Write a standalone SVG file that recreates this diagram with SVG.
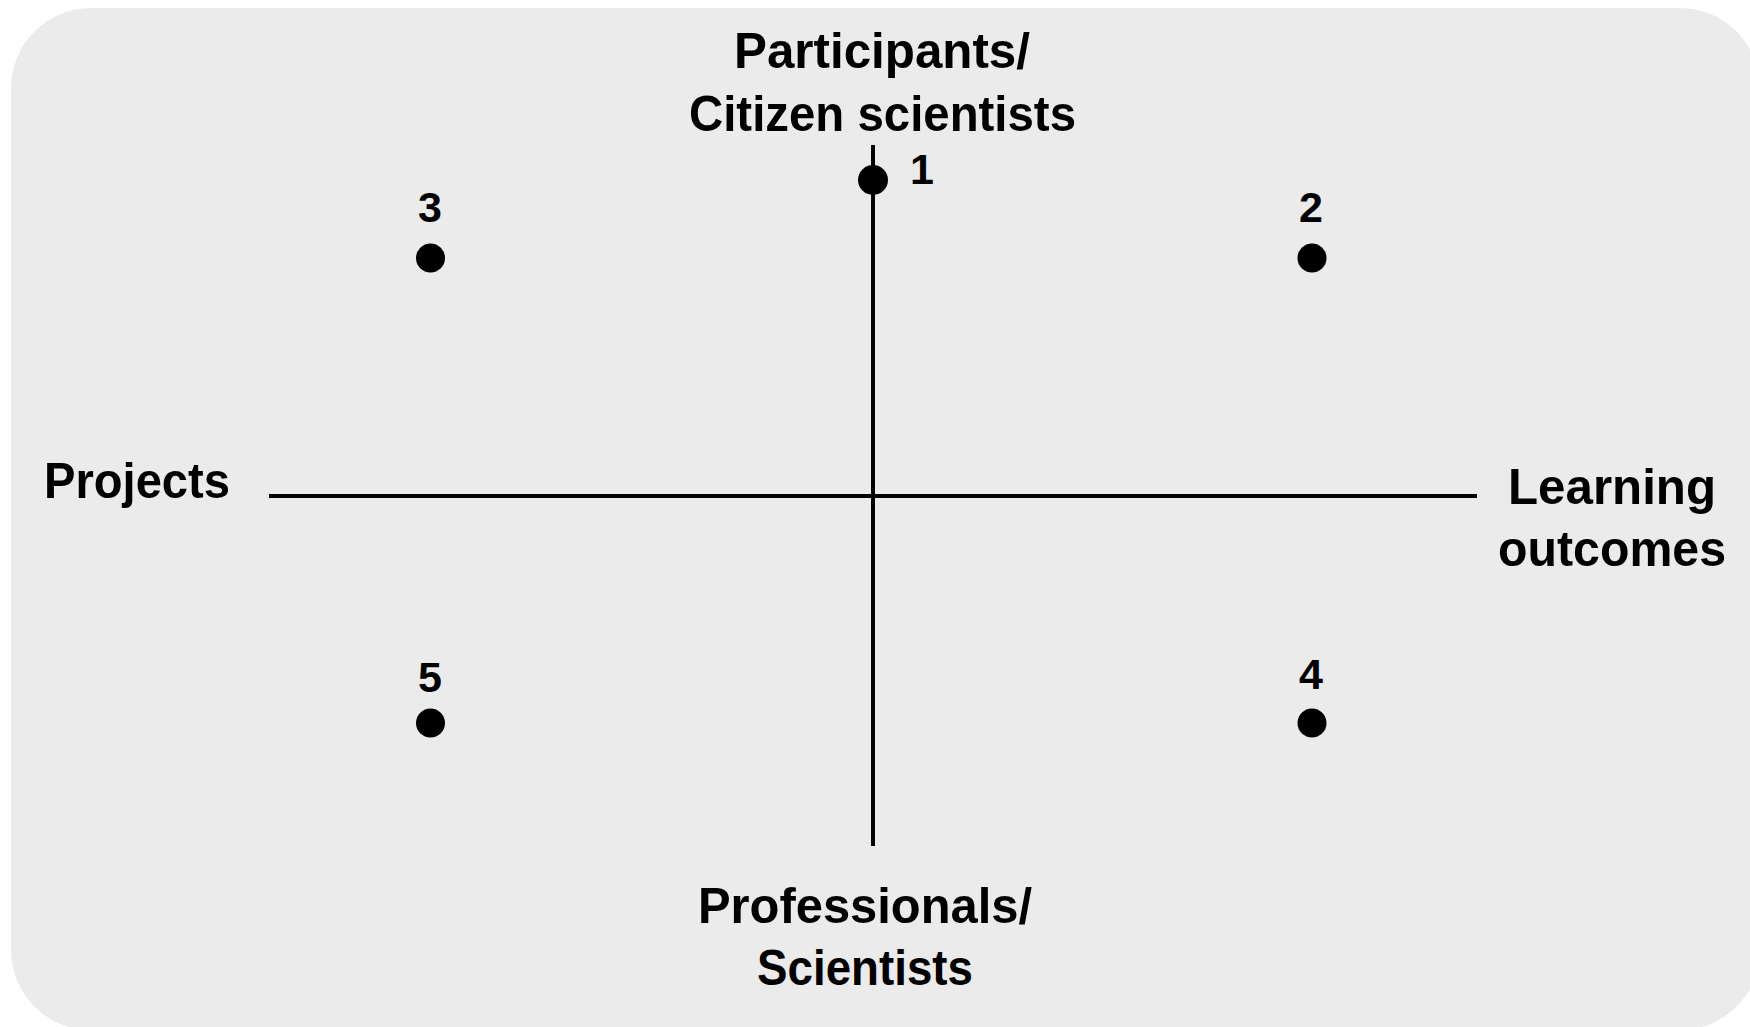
<svg xmlns="http://www.w3.org/2000/svg" width="1750" height="1027" viewBox="0 0 1750 1027">
<style>
.lbl{font-family:"Liberation Sans",Arial,sans-serif;font-weight:bold;font-size:50px;fill:#000;text-anchor:middle}
.num{font-family:"Liberation Sans",Arial,sans-serif;font-weight:bold;font-size:43px;fill:#000;text-anchor:middle}
.axis{stroke:#000;stroke-width:4;fill:none}
.dot{fill:#000}
</style>
<rect id="background" x="11" y="8" width="1749" height="1022" rx="80" ry="80" fill="#ebebeb"/>
<g id="connectors">
<line class="axis" x1="873" y1="145" x2="873" y2="846"/>
<line class="axis" x1="269" y1="496" x2="1477" y2="496"/>
</g>
<g id="label-top">
<text class="lbl" x="882" y="68" textLength="296" lengthAdjust="spacingAndGlyphs">Participants/</text>
<text class="lbl" x="882.5" y="131" textLength="387" lengthAdjust="spacingAndGlyphs">Citizen scientists</text>
</g>
<g id="label-bottom">
<text class="lbl" x="865" y="923" textLength="334" lengthAdjust="spacingAndGlyphs">Professionals/</text>
<text class="lbl" x="865" y="985" textLength="216" lengthAdjust="spacingAndGlyphs">Scientists</text>
</g>
<g id="label-left">
<text class="lbl" x="137" y="498" textLength="186" lengthAdjust="spacingAndGlyphs">Projects</text>
</g>
<g id="label-right">
<text class="lbl" x="1612" y="504" textLength="208" lengthAdjust="spacingAndGlyphs">Learning</text>
<text class="lbl" x="1612" y="566" textLength="228" lengthAdjust="spacingAndGlyphs">outcomes</text>
</g>
<g id="node-1">
<circle class="dot" cx="873" cy="180" r="15"/>
<text class="num" x="922" y="184">1</text>
</g>
<g id="node-2">
<circle class="dot" cx="1312" cy="258" r="14.5"/>
<text class="num" x="1311" y="222">2</text>
</g>
<g id="node-3">
<circle class="dot" cx="430.5" cy="258" r="14.5"/>
<text class="num" x="430" y="222">3</text>
</g>
<g id="node-4">
<circle class="dot" cx="1312" cy="723" r="14.5"/>
<text class="num" x="1311" y="689">4</text>
</g>
<g id="node-5">
<circle class="dot" cx="430.5" cy="723" r="14.5"/>
<text class="num" x="430" y="692">5</text>
</g>
</svg>
